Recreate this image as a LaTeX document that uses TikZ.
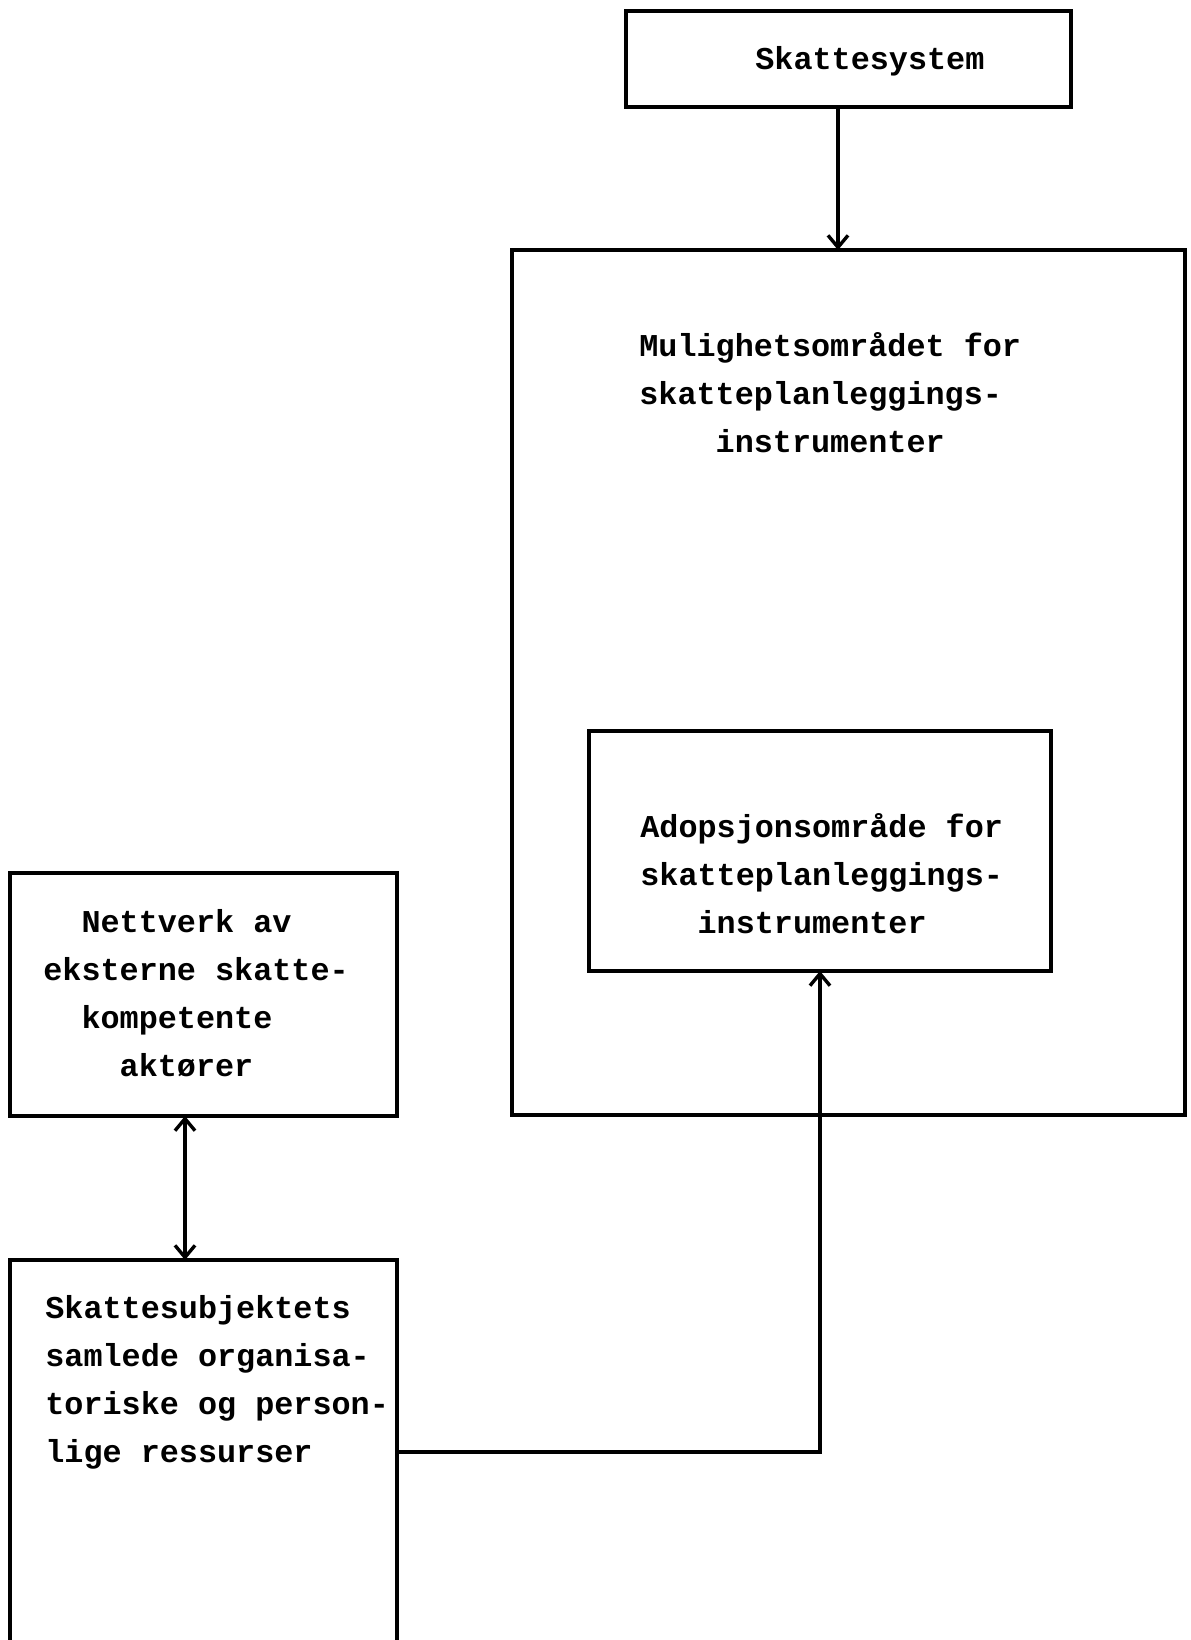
\documentclass[tikz,border=0pt]{standalone}
\usepackage{fontspec}
\newfontfamily\typewriter{Liberation Mono}
\usetikzlibrary{arrows.meta}

\begin{document}
\begin{tikzpicture}[
  x=0.5pt, y=-0.5pt,
  box/.style={draw, rectangle, line width=1.8pt, inner sep=0pt, outer sep=0pt},
  label/.style={anchor=base west, align=left, inner sep=0pt,
    font=\fontsize{15.9pt}{24pt}\selectfont\typewriter\bfseries},
  link/.style={line width=1.7pt},
  >={Straight Barb[length=6pt,width=10pt,line width=1.7pt]}
]
  \useasboundingbox (0,0) rectangle (1190,1640);
  \fill[white] (0,0) rectangle (1190,1640);
  \clip (0,0) rectangle (1190,1640);

  % boxes
  \node[box, minimum width=222.5pt, minimum height=48pt]  (sys) at (848.5,59)   {};
  \node[box, minimum width=336.5pt, minimum height=432.5pt] (mul) at (848.5,682.5) {};
  \node[box, minimum width=231pt,   minimum height=120pt] (ado) at (820,851)    {};
  \node[box, minimum width=193.5pt, minimum height=121.5pt] (net) at (203.5,994.5) {};
  \node[box, minimum width=193.5pt, minimum height=230pt] (res) at (203.5,1490)  {};

  % texts (each placed by the baseline of its last line)
  \node[label] (sysT) at (755,69) {Skattesystem};
  \node[label] (mulT) at (639,452) {Mulighetsområdet for\\skatteplanleggings-\\\phantom{xxxx}instrumenter};
  \node[label] (adoT) at (640,933) {Adopsjonsområde for\\skatteplanleggings-\\\phantom{xxx}instrumenter};
  \node[label] (netT) at (43,1076) {\phantom{xx}Nettverk av\\eksterne skatte-\\\phantom{xx}kompetente\\\phantom{xxxx}aktører};
  \node[label] (resT) at (45,1462) {Skattesubjektets\\samlede organisa-\\toriske og person-\\lige ressurser};

  % connectors
  \coordinate (downX) at (838,0);
  \coordinate (pairX) at (185,0);
  \coordinate (tapY) at (0,1452);
  \draw[link,->] (sys.south -| downX) -- (mul.north -| downX);
  \draw[link,<->] (net.south -| pairX) -- (res.north -| pairX);
  \draw[link,->] (res.east |- tapY) -| (ado.south);
\end{tikzpicture}
\end{document}
